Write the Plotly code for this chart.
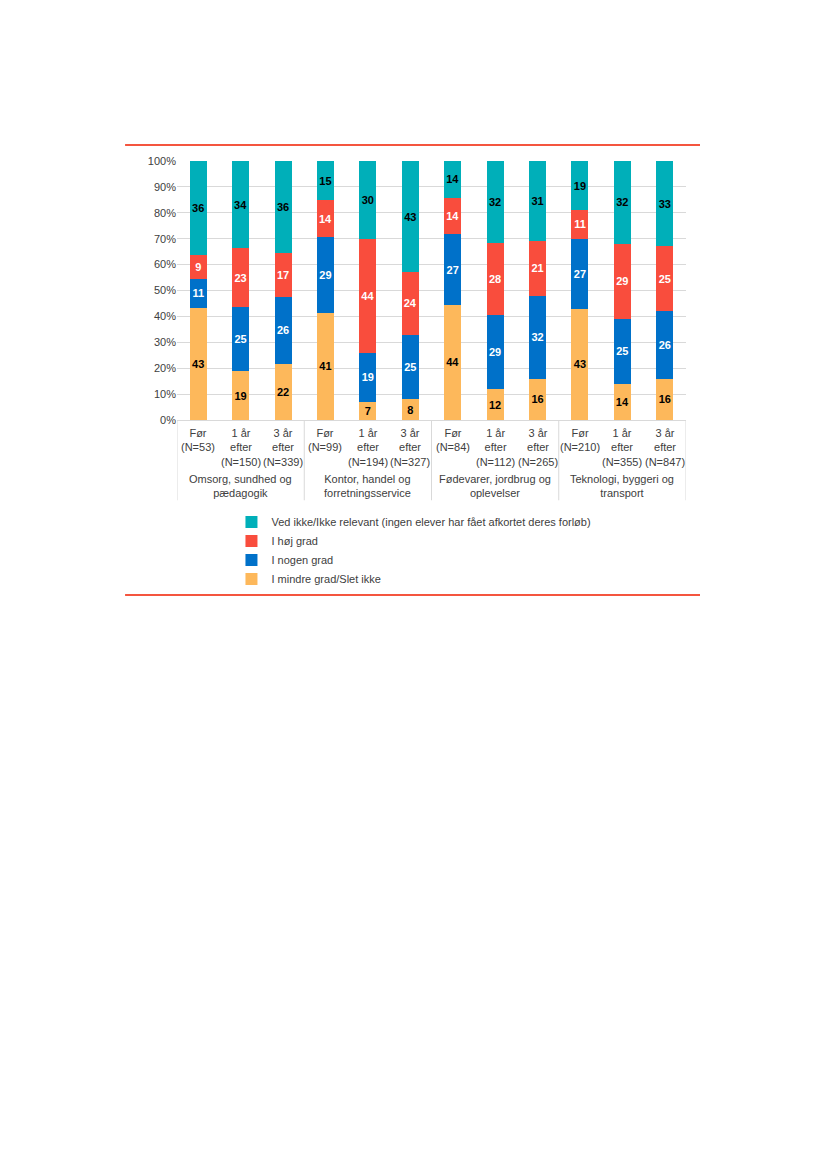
import plotly.graph_objects as go

groups = ["Omsorg, sundhed og<br>pædagogik", "Kontor, handel og<br>forretningsservice",
          "Fødevarer, jordbrug og<br>oplevelser", "Teknologi, byggeri og<br>transport"]
sub_labels = ["Før<br>(N=53)", "1 år<br>efter<br>(N=150)", "3 år<br>efter<br>(N=339)",
              "Før<br>(N=99)", "1 år<br>efter<br>(N=194)", "3 år<br>efter<br>(N=327)",
              "Før<br>(N=84)", "1 år<br>efter<br>(N=112)", "3 år<br>efter<br>(N=265)",
              "Før<br>(N=210)", "1 år<br>efter<br>(N=355)", "3 år<br>efter<br>(N=847)"]

mindre = [43, 19, 22, 41, 7, 8, 44, 12, 16, 43, 14, 16]
nogen = [11, 25, 26, 29, 19, 25, 27, 29, 32, 27, 25, 26]
hoej = [9, 23, 17, 14, 44, 24, 14, 28, 21, 11, 29, 25]
vedikke = [36, 34, 36, 15, 30, 43, 14, 32, 31, 19, 32, 33]

series = [
    ("I mindre grad/Slet ikke", mindre, "#FDB85B", "black"),
    ("I nogen grad", nogen, "#0071C9", "white"),
    ("I høj grad", hoej, "#F94D3D", "white"),
    ("Ved ikke/Ikke relevant (ingen elever har fået afkortet deres forløb)", vedikke, "#00AFB9", "black"),
]

xs = list(range(len(sub_labels)))
fig = go.Figure()
for name, vals, color, tcol in series:
    fig.add_trace(go.Bar(
        x=xs, y=vals, name=name, marker=dict(color=color, line=dict(width=0)),
        text=vals, texttemplate="<b>%{text}</b>", textposition="inside",
        insidetextanchor="middle", textangle=0, constraintext="none",
        textfont=dict(color=tcol, size=11, family="Liberation Sans, Arial"),
        width=0.4,
    ))

font = dict(family="Liberation Sans, Arial", size=11, color="#404040")
fig.update_layout(
    width=819, height=1161, barmode="stack", barnorm="percent",
    margin=dict(l=169, r=141, t=153, b=749),
    paper_bgcolor="white", plot_bgcolor="white",
    font=font, showlegend=True,
    legend=dict(traceorder="reversed", x=0.107, y=-0.338, xanchor="left", yanchor="top",
                font=dict(family="Liberation Sans, Arial", size=11, color="#404040"),
                itemwidth=30, tracegroupgap=0, bgcolor="rgba(0,0,0,0)"),
    yaxis=dict(range=[0, 100], dtick=10, ticksuffix="%", showgrid=True, gridcolor="#D9D9D9",
               gridwidth=1, zeroline=False, showline=False, ticks="", tickfont=font),
    xaxis=dict(range=[-0.5, 11.5], showticklabels=False, showgrid=False, zeroline=False,
               showline=True, linecolor="#D9D9D9", linewidth=1, ticks=""),
)

for i, lab in enumerate(sub_labels):
    fig.add_annotation(x=i, y=0, xref="x", yref="paper", text=lab, showarrow=False,
                       yanchor="top", yshift=-5, align="center", font=font)
for g, lab in enumerate(groups):
    fig.add_annotation(x=g * 3 + 1, y=0, xref="x", yref="paper", text=lab, showarrow=False,
                       yanchor="top", yshift=-51, align="center", font=font)
for b in [-0.5, 2.5, 5.5, 8.5, 11.5]:
    fig.add_shape(type="line", xref="x", yref="paper", x0=b, x1=b, y0=0, y1=-0.31,
                  line=dict(color="#D9D9D9", width=1))
for yy in [1.062, -0.676]:
    fig.add_shape(type="line", xref="paper", yref="paper", x0=-0.102, x1=1.0275, y0=yy, y1=yy,
                  line=dict(color="#F4553F", width=2))

fig.write_html("out.html")
